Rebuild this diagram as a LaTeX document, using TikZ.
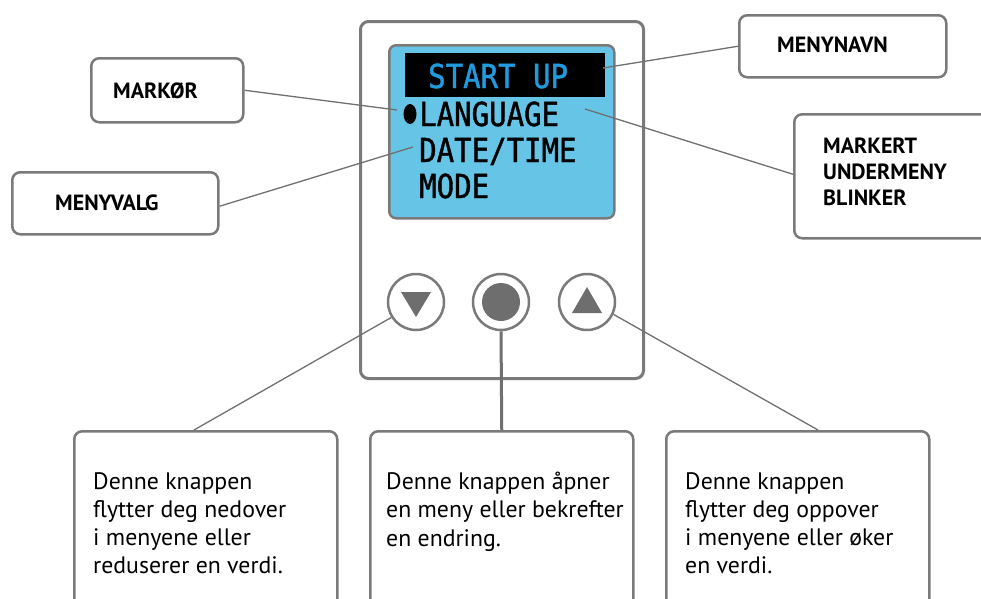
\documentclass[tikz,border=0pt]{standalone}
\usepackage{fontspec}
\usetikzlibrary{shapes.geometric}
\setmainfont{PT Sans}
\newfontfamily\lcdfont[FakeStretch=0.88,FakeBold=1.2]{DejaVu Sans Mono}
\definecolor{frame}{HTML}{7A7A7A}
\definecolor{conncol}{HTML}{707070}
\definecolor{screenblue}{HTML}{66C5E6}
\definecolor{lcdblue}{HTML}{1F9BDE}
\definecolor{btngray}{HTML}{6E6E6E}
\begin{document}
\begin{tikzpicture}[x=1pt,y=-1pt,
 box/.style={draw=frame, line width=2.5pt, rounded corners=8pt, fill=white, inner sep=0pt, anchor=north west},
 lbl/.style={font=\bfseries\fontsize{22}{26}\selectfont, anchor=base west, inner sep=0pt},
 body/.style={font=\fontsize{23.8}{28.3}\selectfont, align=left, anchor=north west, inner sep=0pt},
 conn/.style={draw=conncol, line width=1.3pt},
 lcd/.style={font=\lcdfont\fontsize{33}{36}\selectfont, anchor=base west, inner sep=0pt},
 btn/.style={circle, draw=frame, line width=2.5pt, minimum size=56pt, inner sep=0pt, fill=white}]
\useasboundingbox (0,0) rectangle (981,598);
% device
\node[box, line width=3pt, minimum width=283pt, minimum height=357pt] (dev) at (359,20) {};
\node[box, fill=screenblue, rounded corners=7pt, minimum width=225pt, minimum height=173pt] (scr) at (388,44) {};
\node[fill=black, inner sep=0pt, minimum width=200pt, minimum height=44pt, anchor=north west] (bar) at (405,53) {};
\node[lcd, text=lcdblue] (t0) at (428,88) {START UP};
\node[ellipse, fill=black, minimum width=13pt, minimum height=20pt, inner sep=0pt] (bul) at (410,114) {};
\node[lcd] (t1) at (419,126) {LANGUAGE};
\node[lcd] (t2) at (419,162) {DATE/TIME};
\node[lcd] (t3) at (419,198) {MODE};
% buttons
\node[btn] (bdn) at (416,302) {};
\node[btn] (bok) at (501,302) {};
\node[btn] (bup) at (587,302) {};
\node[circle, fill=btngray, minimum size=38pt, inner sep=0pt] (bokin) at (bok) {};
\fill[btngray] (401,292) -- (431,292) -- (416,317) -- cycle;
\fill[btngray] (572,313) -- (602,313) -- (587,287) -- cycle;
% callout boxes
\node[box, minimum width=152pt, minimum height=64pt] (mk) at (90,57) {};
\node[box, minimum width=206pt, minimum height=62pt] (mv) at (11,171) {};
\node[box, minimum width=207pt, minimum height=62pt] (mn) at (738,14) {};
\node[box, minimum width=220pt, minimum height=124pt] (mu) at (793,113) {};
\node[box, minimum width=263pt, minimum height=190pt] (b1) at (73,430) {};
\node[box, minimum width=263pt, minimum height=190pt] (b2) at (369,430) {};
\node[box, minimum width=263pt, minimum height=190pt] (b3) at (665,430) {};
% labels
\node[lbl] (lmk) at (113,98) {MARKØR};
\node[lbl] (lmv) at (55,210) {MENYVALG};
\node[lbl] (lmn) at (777,52.7) {MENYNAVN};
\node[lbl, anchor=north west, align=left] (lmu) at (823,137.5) {MARKERT\\UNDERMENY\\BLINKER};
\node[body] (tb1) at (93,472) {Denne knappen\\flytter deg nedover\\i menyene eller\\reduserer en verdi.};
\node[body] (tb2) at (386,472) {Denne knappen åpner\\en meny eller bekrefter\\en endring.};
\node[body] (tb3) at (685,472) {Denne knappen\\flytter deg oppover\\i menyene eller øker\\en verdi.};
% connector end points
\coordinate (pmk) at (397,110);
\coordinate (pmv) at (413,147);
\coordinate (pmn) at (603,68);
\coordinate (pmu) at (585,109);
\coordinate (pb1) at (194,430);
\coordinate (pb3) at (818,430);
% connectors
\draw[conn] (mk.east) -- (pmk);
\draw[conn] ([yshift=-3pt]mv.east) -- (pmv);
\draw[conn] (mn.west) -- (pmn);
\draw[conn] ([yshift=2pt]mu.west) -- (pmu);
\draw[conn] (bdn.212) -- (pb1);
\draw[conn, line width=3pt] (bok.south) -- (b2.north);
\draw[conn] (bup.-25) -- (pb3);
\end{tikzpicture}
\end{document}
